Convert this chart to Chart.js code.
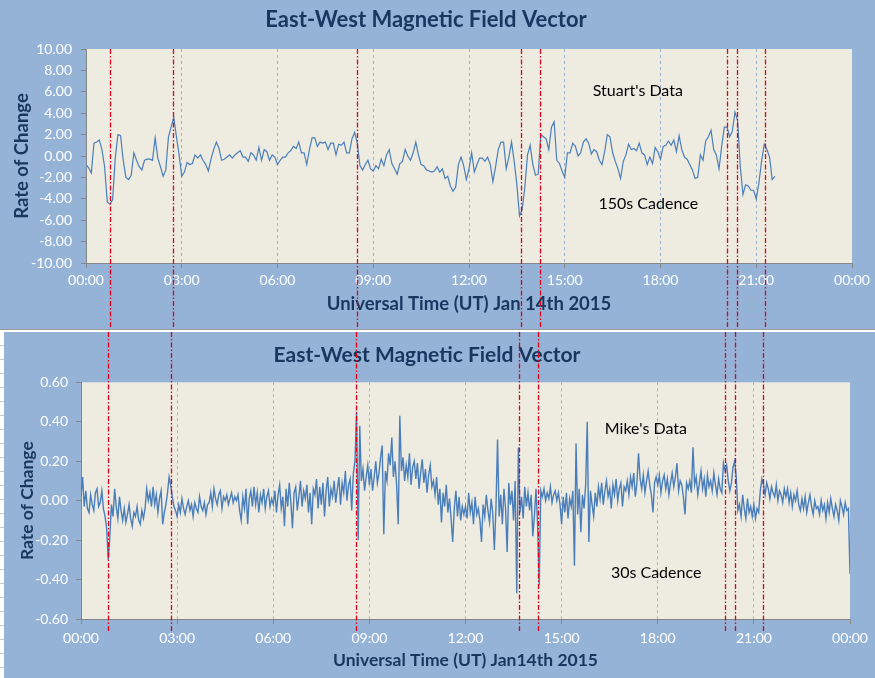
<!DOCTYPE html>
<html><head><meta charset="utf-8">
<script src="https://cdn.jsdelivr.net/npm/chart.js@4.4.1/dist/chart.umd.min.js"></script>
<style>
html,body{margin:0;padding:0;background:#fff;}
#wrap{position:relative;width:875px;height:678px;overflow:hidden;background:#fff;}
#p1{position:absolute;left:0;top:0;width:875px;height:329px;background:#95b3d7;}
#sep{position:absolute;left:0;top:329px;width:875px;height:1px;background:#9a9a9a;}
#strip{position:absolute;left:0;top:332px;width:4px;height:346px;background:repeating-linear-gradient(to bottom,#fff 0,#fff 13px,#c8c8c8 13px,#c8c8c8 14px);}
#p2{position:absolute;left:4px;top:332px;width:871px;height:346px;background:#95b3d7;}
canvas{display:block;}
</style></head><body>
<div id="wrap">
<div id="p1"><canvas id="c1" width="875" height="329"></canvas></div>
<div id="sep"></div><div id="strip"></div>
<div id="p2"><canvas id="c2" width="871" height="346"></canvas></div>
</div>
<script>
// ---------- data ----------
const chartTitle = 'East-West Magnetic Field Vector';
const yAxisTitle = 'Rate of Change';
const timeTickHours = [0, 3, 6, 9, 12, 15, 18, 21, 24];
const timeTickLabels = ['00:00','03:00','06:00','09:00','12:00','15:00','18:00','21:00','00:00'];

// Stuart's data (top), one value every 5 minutes from 00:00
const stuartStepMinutes = 5;
const stuartValues = [
-0.8,-1.1,-1.6,1.2,1.3,1.5,0.6,-1.0,-4.3,-4.5,
-4.1,-0.2,2.0,1.9,-0.4,-2.0,-2.2,-1.8,0.3,-0.4,
-1.0,-1.3,-0.4,-0.3,-0.3,-0.4,1.7,-0.2,-1.0,-1.9,
-1.3,1.8,2.7,3.6,1.8,0.1,-1.9,-1.5,-0.6,-0.8,
-0.7,0.1,-0.2,0.1,-0.4,-0.8,-1.4,-0.3,0.6,1.3,
0.7,-0.4,-0.3,-0.1,0.1,-0.2,0.1,0.3,0.5,-0.1,
-0.1,-0.5,0.3,0.1,-0.4,0.8,-0.4,0.6,0.4,-0.4,
0.1,-0.1,-0.8,-0.4,-0.1,-0.1,0.3,0.5,0.9,0.7,
1.3,0.3,0.3,-0.8,0.6,1.7,1.7,0.9,1.3,1.2,
1.3,0.6,1.2,1.2,0.1,1.1,1.0,1.3,0.3,0.3,
1.6,2.2,1.2,-0.9,-1.3,-0.8,-0.4,-1.2,-1.4,-0.9,
-1.2,-0.3,-0.9,0.1,0.6,-0.7,-1.2,-1.7,-0.7,-0.5,
0.6,0.0,-0.4,0.3,1.3,0.1,-0.8,-0.9,-1.3,-1.4,
-1.5,-1.4,-1.0,-1.5,-1.2,-2.1,-1.9,-2.8,-3.3,-2.9,
-0.8,-0.1,-0.9,-2.2,-1.2,0.3,-1.5,-0.8,-0.2,-0.2,
-0.5,-0.1,-0.8,-2.4,-1.0,0.6,1.3,1.3,-1.2,-0.1,
1.3,-0.5,-2.7,-5.6,-5.0,-2.9,0.1,1.0,-0.8,-1.8,
-1.7,2.0,1.8,1.6,0.6,2.7,3.2,-0.4,-0.7,
-1.4,-2.0,0.3,0.3,1.2,0.9,0.0,0.3,1.3,1.6,
1.2,0.2,0.6,0.4,-0.4,-0.8,0.4,2.0,1.8,0.3,
-0.5,-1.2,-2.1,-0.5,0.1,1.1,0.6,0.7,0.5,1.2,
0.3,0.1,-0.8,-0.1,-0.7,0.8,0.4,-0.3,0.9,1.0,
1.4,1.0,1.5,0.4,1.9,0.6,-0.1,-0.3,-0.8,-1.3,
-2.1,-2.0,0.1,-0.4,1.4,1.8,2.4,0.6,0.1,-1.2,
0.9,2.7,2.7,1.8,2.3,4.1,3.3,-1.0,-3.6,-2.7,
-2.8,-3.2,-3.2,-4.0,-2.5,-0.5,1.1,0.6,-0.1,-2.2,
-1.9
];
const stuartEventHours = [0.75, 2.73, 8.48, 13.62, 14.22, 20.07, 20.39, 21.26];

// Mike's data (bottom), in hundredths, one value every 3 minutes from 00:00
const mikeStepMinutes = 3;
const mikeValuesHundredths = [
2,12,-3,5,-4,-6,3,-2,-5,4,6,-3,-1,5,-4,-8,-14,-30,-18,-2,
-8,6,-3,-9,2,-5,-10,-4,-11,-7,-2,-9,-13,-6,-8,-3,-10,-12,-5,-9,
-4,6,0,4,-3,7,-2,3,-6,1,5,-12,-6,-2,4,12,8,2,-3,-5,
-8,-2,-6,1,-4,-7,-3,0,-5,-2,-8,-1,-4,-6,2,-3,-5,-1,-7,-2,
-1,4,-3,6,1,-2,3,5,-4,2,0,3,-2,1,4,-1,2,0,3,-5,
-10,2,-4,6,-12,1,5,-3,7,-2,4,-6,3,-1,6,-4,2,5,-3,1,
-2,5,-6,3,8,-4,2,-13,6,-3,9,-1,-14,4,7,-5,2,10,-3,5,
1,8,-6,4,-12,6,3,11,-4,7,-2,9,-8,5,12,-3,6,2,10,-1,
6,12,-2,9,4,15,0,8,11,-5,14,20,45,-20,38,10,16,5,12,18,
8,16,5,12,20,9,14,22,28,-17,15,10,24,18,32,12,20,8,-12,43,
15,22,10,18,12,24,8,17,20,11,19,6,14,21,9,16,4,13,18,7,
10,3,12,-2,6,-11,4,-3,8,-6,1,-9,-21,-4,5,-8,2,-10,-3,-7,
-3,-9,4,-6,-1,-12,2,-7,-4,-10,-21,-2,-8,3,-5,-11,1,-6,-25,-4,
31,-8,3,-12,6,-4,-26,9,-2,5,-10,10,-47,27,-6,2,-9,7,-3,4,
-5,3,-18,-8,6,-12,-43,5,2,6,0,4,1,7,-1,3,5,0,4,-2,
-12,2,-6,4,-9,1,-3,5,-33,29,-7,6,-16,3,-4,8,40,-21,5,-2,
-8,4,-3,7,1,9,-2,5,10,2,6,-4,8,3,11,0,6,9,-3,7,
5,10,3,12,7,14,2,9,24,11,6,13,4,10,15,8,3,-6,9,12,
8,13,4,10,13,6,11,3,9,14,7,12,19,5,10,8,2,-7,9,6,
10,4,27,8,12,3,9,15,6,11,2,13,7,10,5,14,8,3,11,6,
4,19,15,18,10,5,9,17,20,12,-5,-2,-8,3,-4,-9,1,-6,-3,-8,
-2,-9,-4,-6,5,11,8,3,9,6,1,7,4,2,8,0,5,3,-1,6,
2,6,-1,4,-3,3,0,5,-2,-5,1,-4,2,-6,-1,3,-3,-7,0,-4,
-3,-7,0,-5,-2,-9,-1,-6,1,-4,-8,-2,-5,-10,0,-3,-7,-1,-5,-4,
-37
];
const mikeEventHours = [0.84, 2.81, 8.57, 13.68, 14.27, 20.11, 20.42, 21.30];

// ---------- rendering ----------
const FONT = 'Lato, "Open Sans", sans-serif';
Chart.defaults.font.family = FONT;
const NAVY = '#17375e';
const AXIS = '#868686';

const stuartPts = stuartValues.map((v, i) => ({x: i * stuartStepMinutes / 60, y: v}));
const mikePts = mikeValuesHundredths.map((v, i) => ({x: i * mikeStepMinutes / 60, y: v / 100}));

function fmt(v) { if (Math.abs(v) < 1e-9) v = 0; return v.toFixed(2); }

const bgPlugin = {
  id: 'plotBg',
  beforeDraw(chart) {
    const a = chart.chartArea, c = chart.ctx;
    c.save(); c.fillStyle = '#eeece1'; c.fillRect(a.left, a.top, a.right - a.left, a.bottom - a.top); c.restore();
  }
};
const eventPlugin = {
  id: 'eventLines',
  afterDraw(chart, args, opts) {
    const c = chart.ctx, xs = chart.scales.x, a = chart.chartArea;
    const y0 = opts.fromCanvasTop ? 0 : a.top;
    const y1 = opts.toCanvasBottom ? chart.height : a.bottom + (opts.below || 0);
    c.save();
    c.strokeStyle = '#e3001b'; c.lineWidth = 1.3; c.setLineDash([5, 2, 1.5, 2]);
    (opts.times || []).forEach(t => {
      const x = Math.round(xs.getPixelForValue(t)) + 0.5;
      c.beginPath(); c.moveTo(x, y0); c.lineTo(x, y1); c.stroke();
    });
    c.restore();
  }
};
const notePlugin = {
  id: 'notes',
  afterDatasetsDraw(chart, args, opts) {
    const c = chart.ctx, xs = chart.scales.x, ys = chart.scales.y;
    c.save(); c.fillStyle = '#000'; c.font = '16px ' + FONT; c.textAlign = 'center'; c.textBaseline = 'middle';
    (opts.items || []).forEach(n => c.fillText(n.text, xs.getPixelForValue(n.x), ys.getPixelForValue(n.y)));
    c.restore();
  }
};

function makeChart(id, cfg) {
  return new Chart(document.getElementById(id), {
    type: 'line',
    data: {datasets: [{data: cfg.points, borderColor: '#4a7ebb', borderWidth: cfg.lineWidth, pointRadius: 0, tension: 0, fill: false}]},
    plugins: [bgPlugin, eventPlugin, notePlugin],
    options: {
      responsive: false, animation: false, devicePixelRatio: 1, parsing: true,
      layout: {padding: {left: 0, right: cfg.padRight, top: 0, bottom: 0}},
      plugins: {
        legend: {display: false}, tooltip: {enabled: false},
        title: {display: true, text: chartTitle, color: NAVY, font: {family: FONT, size: cfg.titleSize, weight: 'bold'}, padding: cfg.titlePad},
        eventLines: cfg.events,
        notes: {items: cfg.notes}
      },
      scales: {
        x: {
          type: 'linear', min: 0, max: 24,
          afterBuildTicks: s => { s.ticks = timeTickHours.map(v => ({value: v})); },
          ticks: {color: '#fff', font: {size: cfg.tickSize}, padding: cfg.xTickPad, maxRotation: 0, autoSkip: false,
            callback: v => timeTickLabels[timeTickHours.indexOf(v)]},
          grid: {color: ctx => (ctx.tick && (ctx.tick.value === 0 || ctx.tick.value === 24)) ? 'rgba(0,0,0,0)' : '#9db2cf',
            lineWidth: 1, tickColor: AXIS, tickLength: 5},
          border: {display: true, color: AXIS, width: 1, dash: [3, 3]},
          title: {display: true, text: cfg.xTitle, color: NAVY, font: {size: cfg.axisTitleSize, weight: 'bold'}, padding: {top: 0, bottom: cfg.xTitlePadB}},
          afterFit: s => { s.height = cfg.xHeight; }
        },
        y: {
          min: cfg.yMin, max: cfg.yMax,
          ticks: {stepSize: cfg.yStep, color: '#fff', font: {size: cfg.tickSize}, padding: cfg.yTickPad, callback: v => fmt(v)},
          grid: {drawOnChartArea: false, tickColor: AXIS, tickLength: 5},
          border: {display: true, color: AXIS, width: 1},
          title: {display: true, text: yAxisTitle, color: NAVY, font: {size: cfg.axisTitleSize, weight: 'bold'}, padding: {top: cfg.yTitlePadT, bottom: 0}},
          afterFit: s => { s.width = cfg.yWidth; }
        }
      }
    }
  });
}

makeChart('c1', {
  points: stuartPts, lineWidth: 1.2, padRight: 23,
  titleSize: 22, titlePad: {top: 7, bottom: 15.6},
  tickSize: 14, xTickPad: 4.5, yTickPad: 9,
  xTitle: 'Universal Time (UT) Jan 14th 2015', axisTitleSize: 18.5, xTitlePadB: 14, xHeight: 66,
  yMin: -10, yMax: 10, yStep: 2, yTitlePadT: 10.6, yWidth: 86,
  events: {times: stuartEventHours, fromCanvasTop: false, toCanvasBottom: true},
  notes: [{text: "Stuart's Data", x: 17.29, y: 6.1}, {text: '150s Cadence', x: 17.62, y: -4.5}]
});

makeChart('c2', {
  points: mikePts, lineWidth: 1.4, padRight: 25,
  titleSize: 21, titlePad: {top: 10.9, bottom: 14.2},
  tickSize: 14, xTickPad: 6, yTickPad: 8,
  xTitle: 'Universal Time (UT) Jan14th 2015', axisTitleSize: 17.5, xTitlePadB: 7, xHeight: 59,
  yMin: -0.6, yMax: 0.6, yStep: 0.2, yTitlePadT: 12.8, yWidth: 77,
  events: {times: mikeEventHours, fromCanvasTop: true, toCanvasBottom: false, below: 14},
  notes: [{text: "Mike's Data", x: 17.63, y: 0.366}, {text: '30s Cadence', x: 17.95, y: -0.364}]
});
</script>
</body></html>
